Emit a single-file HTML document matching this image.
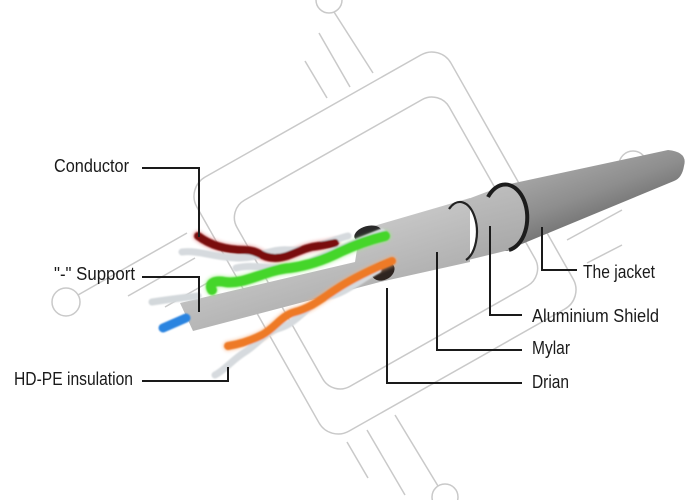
<!DOCTYPE html>
<html><head><meta charset="utf-8"><style>
html,body{margin:0;padding:0;background:#fff;}
svg{display:block;}
text{font-family:"Liberation Sans",sans-serif;font-size:18px;fill:#1a1a1a;}
</style></head><body>
<svg width="700" height="500" viewBox="0 0 700 500" xmlns="http://www.w3.org/2000/svg">
<defs>
<linearGradient id="jk" gradientUnits="userSpaceOnUse" x1="575" y1="160" x2="600" y2="228">
<stop offset="0" stop-color="#a4a4a4"/><stop offset="0.5" stop-color="#8e8e8e"/><stop offset="1" stop-color="#6c6c6c"/>
</linearGradient>
<linearGradient id="sh" gradientUnits="userSpaceOnUse" x1="475" y1="195" x2="490" y2="258">
<stop offset="0" stop-color="#bcbcbc"/><stop offset="1" stop-color="#a8a8a8"/>
</linearGradient>
<linearGradient id="co" gradientUnits="userSpaceOnUse" x1="300" y1="240" x2="320" y2="305">
<stop offset="0" stop-color="#c8c8c8"/><stop offset="1" stop-color="#b2b2b2"/>
</linearGradient>
<filter id="bl" x="-10%" y="-10%" width="120%" height="120%"><feGaussianBlur stdDeviation="0.7"/></filter>
<filter id="gl" x="-10%" y="-10%" width="120%" height="120%"><feGaussianBlur stdDeviation="1.6"/></filter>
</defs>

<!-- watermark -->
<g fill="none" stroke="#c9c9c9" stroke-width="1.5">
<rect x="-146" y="-146" width="292" height="292" rx="22" transform="translate(385,243) rotate(-29.5)"/>
<rect x="-122" y="-107" width="244" height="214" rx="20" transform="translate(386,243) rotate(-29.5)"/>
<circle cx="329" cy="0" r="13"/>
<line x1="334" y1="12" x2="373" y2="73"/>
<line x1="319" y1="33" x2="350" y2="87"/>
<line x1="305" y1="61" x2="327" y2="98"/>
<circle cx="445" cy="497" r="13"/>
<line x1="395" y1="415" x2="438" y2="486"/>
<line x1="367" y1="430" x2="405" y2="495"/>
<line x1="347" y1="442" x2="368" y2="478"/>
<circle cx="66" cy="302" r="14"/>
<line x1="78" y1="295" x2="187" y2="233"/>
<line x1="128" y1="296" x2="195" y2="258"/>
<line x1="165" y1="307" x2="216" y2="278"/>
<circle cx="633" cy="165" r="14"/>
<line x1="621" y1="172" x2="552" y2="212"/>
<line x1="567" y1="240" x2="622" y2="210"/>
<line x1="587" y1="263" x2="622" y2="245"/>
</g>

<!-- core + support strip -->
<path d="M180,303 L355,262 L360,230 L470,198 L470,262 L380,282 L193,331 Z" fill="url(#co)"/>

<!-- shield -->
<path d="M460,202 L505,185 A22 33 0 0 1 505,251 L460,262 A17 30 0 0 0 460,202 Z" fill="url(#sh)"/>
<path d="M449,209 A17 30 0 1 1 466,260" fill="none" stroke="#222" stroke-width="2.2"/>

<!-- jacket -->
<path d="M505,185 L668,150 Q688,152 684,166 Q682,178 674,181 L505,251 A22 33 0 0 0 505,185 Z" fill="url(#jk)"/>
<path d="M488,197 A22 33 0 1 1 509,250" fill="none" stroke="#1c1c1c" stroke-width="4"/>

<!-- cut face blobs -->
<ellipse cx="368" cy="234" rx="14" ry="8" transform="rotate(-15 368 234)" fill="#2a2a2a"/>
<ellipse cx="383" cy="271" rx="12" ry="9" transform="rotate(-25 383 271)" fill="#2e2420"/>

<!-- glows -->
<g fill="none" stroke-linecap="round" filter="url(#gl)" opacity="0.45">
<path d="M198,236 C210,245 225,250 245,250 C258,250 262,258 275,258 C290,258 300,248 318,246 C325,245 330,244 335,243" stroke="#e07070" stroke-width="11"/>
<path d="M212,290 C208,283 215,280 225,282 C245,285 265,270 290,268 C305,266 320,262 340,252 C355,245 368,240 385,236" stroke="#9af080" stroke-width="13"/>
<path d="M228,346 C240,344 252,340 262,335 C275,328 282,315 295,312 C310,308 320,300 335,290 C350,280 370,270 392,261" stroke="#f8b080" stroke-width="11"/>
</g>

<!-- wires -->
<g fill="none" stroke-linecap="round" filter="url(#bl)">
<path d="M152,302 C165,300 180,298 198,296" stroke="#d3d8db" stroke-width="7"/>
<path d="M182,252 C200,250 215,258 240,258 C260,258 270,248 290,250 C310,252 330,240 348,236" stroke="#d6dade" stroke-width="7"/>
<path d="M198,236 C210,245 225,250 245,250 C258,250 262,258 275,258 C290,258 300,248 318,246 C325,245 330,244 335,243" stroke="#7a0c0c" stroke-width="8"/>
<path d="M236,268 C260,262 280,275 310,262 C330,252 350,245 382,232" stroke="#d6dade" stroke-width="7"/>
<path d="M212,290 C208,283 215,280 225,282 C245,285 265,270 290,268 C305,266 320,262 340,252 C355,245 368,240 385,236" stroke="#45d62a" stroke-width="10"/>
<path d="M215,375 C225,370 232,360 245,352 C258,344 265,332 280,328 C300,322 310,300 330,296 C345,293 360,280 378,270" stroke="#d6dade" stroke-width="7"/>
<path d="M228,346 C240,344 252,340 262,335 C275,328 282,315 295,312 C310,308 320,300 335,290 C350,280 370,270 392,261" stroke="#ee7a25" stroke-width="8"/>
<path d="M163,328 L186,318" stroke="#2b84e0" stroke-width="9"/>
</g>

<!-- leader lines -->
<g fill="none" stroke="#1a1a1a" stroke-width="2">
<path d="M142,168 H199 V237"/>
<path d="M142,277 H199 V312"/>
<path d="M142,381 H228 V367"/>
<path d="M577,270 H542 V227"/>
<path d="M522,315 H490 V226"/>
<path d="M522,350 H437 V252"/>
<path d="M522,383 H387 V288"/>
</g>

<!-- labels -->
<text x="54" y="172" textLength="75" lengthAdjust="spacingAndGlyphs">Conductor</text>
<text x="54" y="280" textLength="81" lengthAdjust="spacingAndGlyphs">"-" Support</text>
<text x="14" y="385" textLength="119" lengthAdjust="spacingAndGlyphs">HD-PE insulation</text>
<text x="583" y="278" textLength="72" lengthAdjust="spacingAndGlyphs">The jacket</text>
<text x="532" y="322" textLength="127" lengthAdjust="spacingAndGlyphs">Aluminium Shield</text>
<text x="532" y="354" textLength="38" lengthAdjust="spacingAndGlyphs">Mylar</text>
<text x="532" y="388" textLength="37" lengthAdjust="spacingAndGlyphs">Drian</text>
</svg>
</body></html>
